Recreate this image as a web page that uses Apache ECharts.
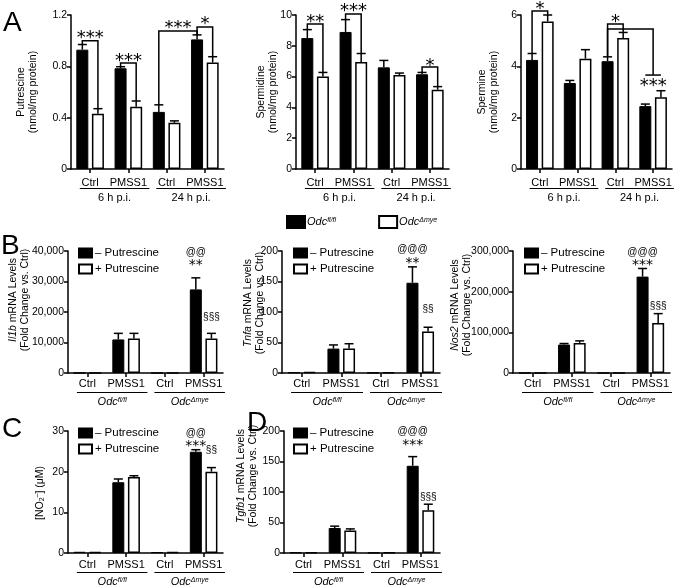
<!DOCTYPE html>
<html><head><meta charset="utf-8">
<script src="https://cdn.jsdelivr.net/npm/echarts@6/dist/echarts.min.js"></script>
<style>html,body{margin:0;padding:0;background:#fff}#c{width:677px;height:588px}</style>
</head><body><div id="c"></div>
<script>
// ---------- data ----------
const categories = ['Ctrl', 'PMSS1', 'Ctrl', 'PMSS1'];
const groupsA = ['6 h p.i.', '24 h p.i.'];
const groupsB = ['{i|Odc}{s|fl/fl}', '{i|Odc}{s|Δmye}'];
const seriesNamesA = ['Odc fl/fl', 'Odc Δmye'];
const seriesNamesB = ['– Putrescine', '+ Putrescine'];

// Panel A: polyamines (black = Odc fl/fl, white = Odc Δmye)
const putrescineFl = [0.93, 0.785, 0.445, 1.01];
const putrescineFlErr = [0.04, 0.012, 0.055, 0.035];
const putrescineDmye = [0.43, 0.485, 0.36, 0.83];
const putrescineDmyeErr = [0.04, 0.045, 0.015, 0.045];
const spermidineFl = [8.5, 8.9, 6.6, 6.15];
const spermidineFlErr = [0.55, 0.8, 0.45, 0.12];
const spermidineDmye = [6.0, 6.95, 6.1, 5.15];
const spermidineDmyeErr = [0.27, 0.55, 0.13, 0.2];
const spermineFl = [4.25, 3.35, 4.2, 2.45];
const spermineFlErr = [0.25, 0.1, 0.17, 0.08];
const spermineDmye = [5.75, 4.3, 5.1, 2.8];
const spermineDmyeErr = [0.25, 0.35, 0.22, 0.25];

// Panels B-D (black = – Putrescine, white = + Putrescine)
const il1bMinus = [1, 11000, 1, 27400];
const il1bMinusErr = [0, 2000, 0, 3800];
const il1bPlus = [1, 11300, 1, 11300];
const il1bPlusErr = [0, 1700, 0, 1700];
const tnfaMinus = [1, 40, 0.5, 148];
const tnfaMinusErr = [0, 6, 0, 26];
const tnfaPlus = [1.5, 40, 1, 68];
const tnfaPlusErr = [0, 8, 0, 7];
const nos2Minus = [1, 70000, 1, 237000];
const nos2MinusErr = [0, 2500, 0, 20000];
const nos2Plus = [1, 74000, 1, 123000];
const nos2PlusErr = [0, 5000, 0, 23000];
const no2Minus = [0.3, 17.4, 0.2, 24.9];
const no2MinusErr = [0, 0.8, 0, 0.5];
const no2Plus = [0.2, 18.7, 0.2, 20.0];
const no2PlusErr = [0, 0.3, 0, 1.0];
const tgfb1Minus = [1, 41, 0.5, 143];
const tgfb1MinusErr = [0, 3, 0, 15];
const tgfb1Plus = [1, 37, 0.8, 70];
const tgfb1PlusErr = [0, 2.5, 0, 10];

// brackets: [catA, sideA, catB, sideB, lineValue, dropA(optional), dropB(optional)]
const putrescineBrackets = [[0, -1, 0, 1, 1.0], [1, -1, 1, 1, 0.826], [2, -1, 3, -1, 1.075], [3, -1, 3, 1, 1.107]];
const spermidineBrackets = [[0, -1, 0, 1, 9.42], [1, -1, 1, 1, 10.06], [3, -1, 3, 1, 6.62]];
const spermineBrackets = [[0, -1, 0, 1, 6.16], [2, -1, 2, 1, 5.65], [2, -1, 3, 0, 5.45, null, 3.66]];
const spermineCrossbars = [[3, 3.66]];
// marks: [catA, sideA, catB, sideB, value, text]
const putrescineMarks = [[0, -1, 0, 1, 1.05, '***'], [1, -1, 1, 1, 0.873, '***'], [2, -1, 3, -1, 1.13, '***'], [3, -1, 3, 1, 1.16, '*']];
const spermidineMarks = [[0, -1, 0, 1, 9.8, '**'], [1, -1, 1, 1, 10.5, '***'], [3, -1, 3, 1, 6.95, '*']];
const spermineMarks = [[0, -1, 0, 1, 6.39, '*'], [2, -1, 2, 1, 5.88, '*'], [3, -1, 3, 1, 3.39, '***']];
const il1bMarks = [[3, -1, 3, -1, 39700, '@@'], [3, -1, 3, -1, 36400, '**'], [3, 1, 3, 1, 18400, '§§§']];
const tnfaMarks = [[3, -1, 3, -1, 203, '@@@'], [3, -1, 3, -1, 185, '**'], [3, 1, 3, 1, 105, '§§']];
const nos2Marks = [[3, -1, 3, -1, 297500, '@@@'], [3, -1, 3, -1, 273000, '***'], [3, 1, 3, 1, 164750, '§§§']];
const no2Marks = [[3, -1, 3, -1, 29.5, '@@'], [3, -1, 3, -1, 27.0, '***'], [3, 1, 3, 1, 25.3, '§§']];
const tgfb1Marks = [[3, -1, 3, -1, 200, '@@@'], [3, -1, 3, -1, 182, '***'], [3, 1, 3, 1, 91.8, '§§§']];

// ---------- styling / layout ----------
const FONT = "'Liberation Sans', Arial, Helvetica, sans-serif";
const STAR_FONT = "'DejaVu Sans', 'Liberation Sans', sans-serif";
const BAR_W = 12, GAP = 0.3, OFF = BAR_W * (1 + GAP) / 2, CAP = 4.5;
const RICH = {
  i: { fontStyle: 'italic', fontSize: 11, fontFamily: FONT },
  s: { fontStyle: 'italic', fontSize: 7, fontFamily: FONT, verticalAlign: 'top', padding: [0, 0, 4, 0] }
};
const NAME_RICH = {
  i: { fontStyle: 'italic', fontSize: 10.5, lineHeight: 12, fontFamily: FONT },
  sb: { fontSize: 7, lineHeight: 12, fontFamily: FONT, verticalAlign: 'bottom' },
  sp: { fontSize: 7, lineHeight: 12, fontFamily: FONT, verticalAlign: 'top' }
};

const panels = [
  { grid: { left: 71, top: 15, width: 153, height: 154 }, max: 1.2, interval: 0.4, name: 'Putrescine\n(nmol/mg protein)', namePos: [27.5, 92],
    black: putrescineFl, blackErr: putrescineFlErr, white: putrescineDmye, whiteErr: putrescineDmyeErr, names: seriesNamesA, groups: groupsA,
    brackets: putrescineBrackets, marks: putrescineMarks, starSize: 18, labelMargin: 8 },
  { grid: { left: 296, top: 15, width: 153, height: 154 }, max: 10, interval: 2, name: 'Spermidine\n(nmol/mg protein)', namePos: [267, 92],
    black: spermidineFl, blackErr: spermidineFlErr, white: spermidineDmye, whiteErr: spermidineDmyeErr, names: seriesNamesA, groups: groupsA,
    brackets: spermidineBrackets, marks: spermidineMarks, starSize: 18, labelMargin: 8 },
  { grid: { left: 521, top: 15, width: 151, height: 154 }, max: 6, interval: 2, name: 'Spermine\n(nmol/mg protein)', namePos: [488, 92],
    black: spermineFl, blackErr: spermineFlErr, white: spermineDmye, whiteErr: spermineDmyeErr, names: seriesNamesA, groups: groupsA,
    brackets: spermineBrackets, crossbars: spermineCrossbars, marks: spermineMarks, starSize: 18, labelMargin: 8 },
  { grid: { left: 68, top: 251, width: 155, height: 122 }, max: 40000, interval: 10000, name: '{i|Il1b} mRNA Levels\n(Fold Change vs. Ctrl)', namePos: [19, 300],
    black: il1bMinus, blackErr: il1bMinusErr, white: il1bPlus, whiteErr: il1bPlusErr, names: seriesNamesB, groups: groupsB,
    marks: il1bMarks, starSize: 14, labelMargin: 5, thousands: true },
  { grid: { left: 282, top: 251, width: 158, height: 122 }, max: 200, interval: 50, name: '{i|Tnfa} mRNA Levels\n(Fold Change vs. Ctrl)', namePos: [254, 303],
    black: tnfaMinus, blackErr: tnfaMinusErr, white: tnfaPlus, whiteErr: tnfaPlusErr, names: seriesNamesB, groups: groupsB,
    marks: tnfaMarks, starSize: 14, labelMargin: 5 },
  { grid: { left: 513, top: 251, width: 157, height: 122 }, max: 300000, interval: 100000, name: '{i|Nos2} mRNA Levels\n(Fold Change vs. Ctrl)', namePos: [461, 305],
    black: nos2Minus, blackErr: nos2MinusErr, white: nos2Plus, whiteErr: nos2PlusErr, names: seriesNamesB, groups: groupsB,
    marks: nos2Marks, starSize: 14, labelMargin: 5, thousands: true },
  { grid: { left: 68, top: 431, width: 155, height: 122 }, max: 30, interval: 10, name: '[NO{sb|2}{sp|–}] (μM)', namePos: [40, 493],
    black: no2Minus, blackErr: no2MinusErr, white: no2Plus, whiteErr: no2PlusErr, names: seriesNamesB, groups: groupsB,
    marks: no2Marks, starSize: 14, labelMargin: 6 },
  { grid: { left: 284, top: 431, width: 156, height: 122 }, max: 200, interval: 50, name: '{i|Tgfb1} mRNA Levels\n(Fold Change vs. Ctrl)', namePos: [247, 476],
    black: tgfb1Minus, blackErr: tgfb1MinusErr, white: tgfb1Plus, whiteErr: tgfb1PlusErr, names: seriesNamesB, groups: groupsB,
    marks: tgfb1Marks, starSize: 14, labelMargin: 6 }
];

function overlaySeries(p, idx) {
  const ops = [];
  p.black.forEach((v, i) => ops.push({ t: 'err', cat: i, side: -1, mean: v, sem: p.blackErr[i] }));
  p.white.forEach((v, i) => ops.push({ t: 'err', cat: i, side: 1, mean: v, sem: p.whiteErr[i] }));
  (p.brackets || []).forEach(b => ops.push({ t: 'br', b }));
  (p.crossbars || []).forEach(c => ops.push({ t: 'cb', c }));
  (p.marks || []).forEach(m => ops.push({ t: 'tx', m }));
  p.groups.forEach((g, k) => ops.push({ t: 'grp', c0: 2 * k, c1: 2 * k + 1, label: g }));
  const errTop = (c, s) => s < 0 ? p.black[c] + p.blackErr[c] : p.white[c] + p.whiteErr[c];
  const ls = { stroke: '#000', lineWidth: 1.5, fill: null };
  return {
    type: 'custom', xAxisIndex: idx, yAxisIndex: idx, z: 10, silent: true, clip: false,
    data: ops.map(() => [0, 0]),
    renderItem: function (params, api) {
      const o = ops[params.dataIndex];
      const bx = (c, s) => api.coord([c, 0])[0] + s * OFF;
      const yv = v => api.coord([0, v])[1];
      if (o.t === 'err') {
        if (!(o.sem > 0)) return null;
        const x = bx(o.cat, o.side), y0 = yv(o.mean), y1 = yv(o.mean + o.sem);
        return { type: 'group', children: [
          { type: 'line', shape: { x1: x, y1: y0, x2: x, y2: y1 }, style: ls },
          { type: 'line', shape: { x1: x - CAP, y1: y1, x2: x + CAP, y2: y1 }, style: ls }] };
      }
      if (o.t === 'br') {
        const [ca, sa, cb, sb, yl, da, db] = o.b;
        const xa = bx(ca, sa), xb = bx(cb, sb);
        const ya = yv(da != null ? da : errTop(ca, sa)), yb = yv(db != null ? db : errTop(cb, sb));
        const y = yv(yl);
        return { type: 'polyline', shape: { points: [[xa, ya], [xa, y], [xb, y], [xb, yb]] }, style: ls };
      }
      if (o.t === 'cb') {
        const y = yv(o.c[1]);
        return { type: 'line', shape: { x1: bx(o.c[0], -1), y1: y, x2: bx(o.c[0], 1), y2: y }, style: ls };
      }
      if (o.t === 'tx') {
        const [ca, sa, cb, sb, v, text] = o.m;
        const x = (bx(ca, sa) + bx(cb, sb)) / 2;
        const star = text.indexOf('*') >= 0;
        const fs = star ? p.starSize : 10;
        const y = yv(v) + (star ? 0.23 * fs : 0);
        return { type: 'text', x: x, y: y, style: { text: text, fill: '#000', align: 'center', verticalAlign: 'middle', fontSize: fs, fontFamily: star ? STAR_FONT : FONT } };
      }
      if (o.t === 'grp') {
        const band = api.size([1, 0])[0];
        const ya = yv(0);
        const x0 = bx(o.c0, 0) - 0.27 * band, x1 = bx(o.c1, 0) + 0.55 * band;
        return { type: 'group', children: [
          { type: 'line', shape: { x1: x0, y1: ya + 19.5, x2: x1, y2: ya + 19.5 }, style: { stroke: '#000', lineWidth: 1.2 } },
          { type: 'text', x: (x0 + x1) / 2, y: ya + 29, style: { text: o.label, fill: '#000', align: 'center', verticalAlign: 'middle', fontSize: 11, fontFamily: FONT, rich: RICH } }] };
      }
      return null;
    }
  };
}

const axisLineStyle = { color: '#000', width: 1.5 };
const series = [];
panels.forEach((p, i) => {
  series.push({ type: 'bar', name: p.names[0], xAxisIndex: i, yAxisIndex: i, data: p.black, barWidth: BAR_W, barGap: (GAP * 100) + '%',
    itemStyle: { color: '#000', borderColor: '#000', borderWidth: 1 } });
  series.push({ type: 'bar', name: p.names[1], xAxisIndex: i, yAxisIndex: i, data: p.white, barWidth: BAR_W, barGap: (GAP * 100) + '%',
    itemStyle: { color: '#fff', borderColor: '#000', borderWidth: 1.5 } });
  series.push(overlaySeries(p, i));
});

const legendB = (left, top) => ({
  data: seriesNamesB, left: left, top: top, padding: 0, orient: 'vertical', itemWidth: 13, itemHeight: 9, itemGap: 4, icon: 'rect',
  selectedMode: false, textStyle: { fontSize: 11.5, color: '#000', fontFamily: FONT, padding: [0, 0, 0, -2] }
});

const letters = [['A', 3, 9], ['B', 1, 232], ['C', 2, 415], ['D', 247, 409]];
const graphics = letters.map(([t, l, tp]) => ({ type: 'text', left: l, top: tp, style: { text: t, fontSize: 28, fontFamily: FONT, fill: '#000' } }));
panels.forEach(p => graphics.push({
  type: 'text', x: p.namePos[0], y: p.namePos[1], rotation: Math.PI / 2,
  style: { text: p.name, align: 'center', verticalAlign: 'middle', fontSize: 10.5, lineHeight: 12, fontFamily: FONT, fill: '#000', rich: NAME_RICH }
}));

const option = {
  animation: false,
  textStyle: { fontFamily: FONT, color: '#000' },
  grid: panels.map(p => Object.assign({ containLabel: false }, p.grid)),
  xAxis: panels.map((p, i) => ({
    type: 'category', gridIndex: i, data: categories,
    axisLine: { show: true, lineStyle: axisLineStyle },
    axisTick: { show: true, alignWithLabel: true, length: 4, lineStyle: axisLineStyle },
    axisLabel: { color: '#000', fontSize: 11, margin: p.labelMargin, interval: 0, fontFamily: FONT }
  })),
  yAxis: panels.map((p, i) => ({
    type: 'value', gridIndex: i, min: 0, max: p.max, interval: p.interval,
    splitLine: { show: false },
    axisLine: { show: true, lineStyle: axisLineStyle },
    axisTick: { show: true, length: 4, lineStyle: axisLineStyle },
    axisLabel: { color: '#000', fontSize: 10.5, margin: 4, fontFamily: FONT,
      formatter: p.thousands ? (v => v.toLocaleString('en-US')) : null }
  })),
  legend: [
    { data: seriesNamesA, left: 286, top: 215, padding: 0, orient: 'horizontal', itemWidth: 18, itemHeight: 12, itemGap: 42, icon: 'rect', selectedMode: false,
      formatter: n => n === seriesNamesA[0] ? groupsB[0] : groupsB[1],
      textStyle: { fontSize: 11, color: '#000', fontFamily: FONT, padding: [0, 0, 0, -3], rich: RICH } },
    legendB(78, 247), legendB(293, 247), legendB(524, 247), legendB(78, 427), legendB(293, 427)
  ],
  graphic: graphics,
  series: series
};
const chart = echarts.init(document.getElementById('c'), null, { renderer: 'canvas' });
chart.setOption(option);
</script></body></html>
